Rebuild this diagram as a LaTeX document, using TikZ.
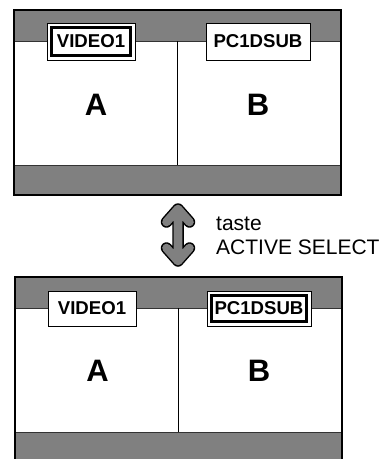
\documentclass[tikz,border=0pt]{standalone}
\usepackage{fontspec}
\setmainfont{Liberation Sans}
\begin{document}
\begin{tikzpicture}[x=1pt,y=-1pt,
  band/.style={fill=black!50,draw=black!80,line width=0.8},
  frame/.style={draw=black,line width=2.8},
  divider/.style={draw=black,line width=1},
  labelbox/.style={draw=black,fill=white,line width=1,inner sep=0pt,
    minimum height=37pt,font=\fontsize{18.6}{20}\selectfont\bfseries},
  bigletter/.style={inner sep=0pt,anchor=base,font=\fontsize{31}{34}\selectfont\bfseries},
  caption/.style={inner sep=0pt,anchor=base west,font=\fontsize{21}{24}\selectfont},
  activebox/.style={draw=black,line width=2.6}]
\clip (0,0) rectangle (388,459);
% ---------- top screen
\fill[white] (14,10) rectangle (341,195);
\filldraw[band] (14,10) rectangle (341,41);
\filldraw[band] (14,165) rectangle (341,195);
\draw[divider] (177,41) -- (177,165);
\draw[frame] (14,10) rectangle (341,195);
\node[labelbox,minimum width=88pt] (tv) at (91,41.5) {VIDEO1};
\draw[activebox] ([shift={(5pt,-5pt)}]tv.north west) rectangle ([shift={(-5pt,5pt)}]tv.south east);
\node[labelbox,minimum width=104pt] (tp) at (258,41.5) {PC1DSUB};
\node[bigletter] (ta) at (96,115) {A};
\node[bigletter] (tb) at (258,115) {B};
% ---------- arrow
\coordinate (au) at (178,209);
\coordinate (ad) at (178,261);
\foreach \c/\w in {black/11.5,black!50/8.6}{
  \draw[draw=\c,line width=\w,line cap=round,line join=round]
    (166.5,222) -- (au) -- (189.5,222)
    (au) -- (ad)
    (166.5,248) -- (ad) -- (189.5,248);
}
\node[caption] (t1) at (216,230) {taste};
\node[caption] (t2) at (216,254) {ACTIVE SELECT};
% ---------- bottom screen
\fill[white] (15,277) rectangle (342,470);
\filldraw[band] (15,277) rectangle (342,308);
\filldraw[band] (15,432) rectangle (342,470);
\draw[divider] (178,308) -- (178,432);
\draw[frame] (15,277) rectangle (342,470);
\node[labelbox,minimum width=88pt,minimum height=35pt] (bv) at (92,308.5) {VIDEO1};
\node[labelbox,minimum width=104pt,minimum height=35pt] (bp) at (259,308.5) {PC1DSUB};
\draw[activebox] ([shift={(5pt,-5pt)}]bp.north west) rectangle ([shift={(-5pt,5pt)}]bp.south east);
\node[bigletter] (ba) at (97.5,381) {A};
\node[bigletter] (bb) at (259,381) {B};
\end{tikzpicture}
\end{document}
